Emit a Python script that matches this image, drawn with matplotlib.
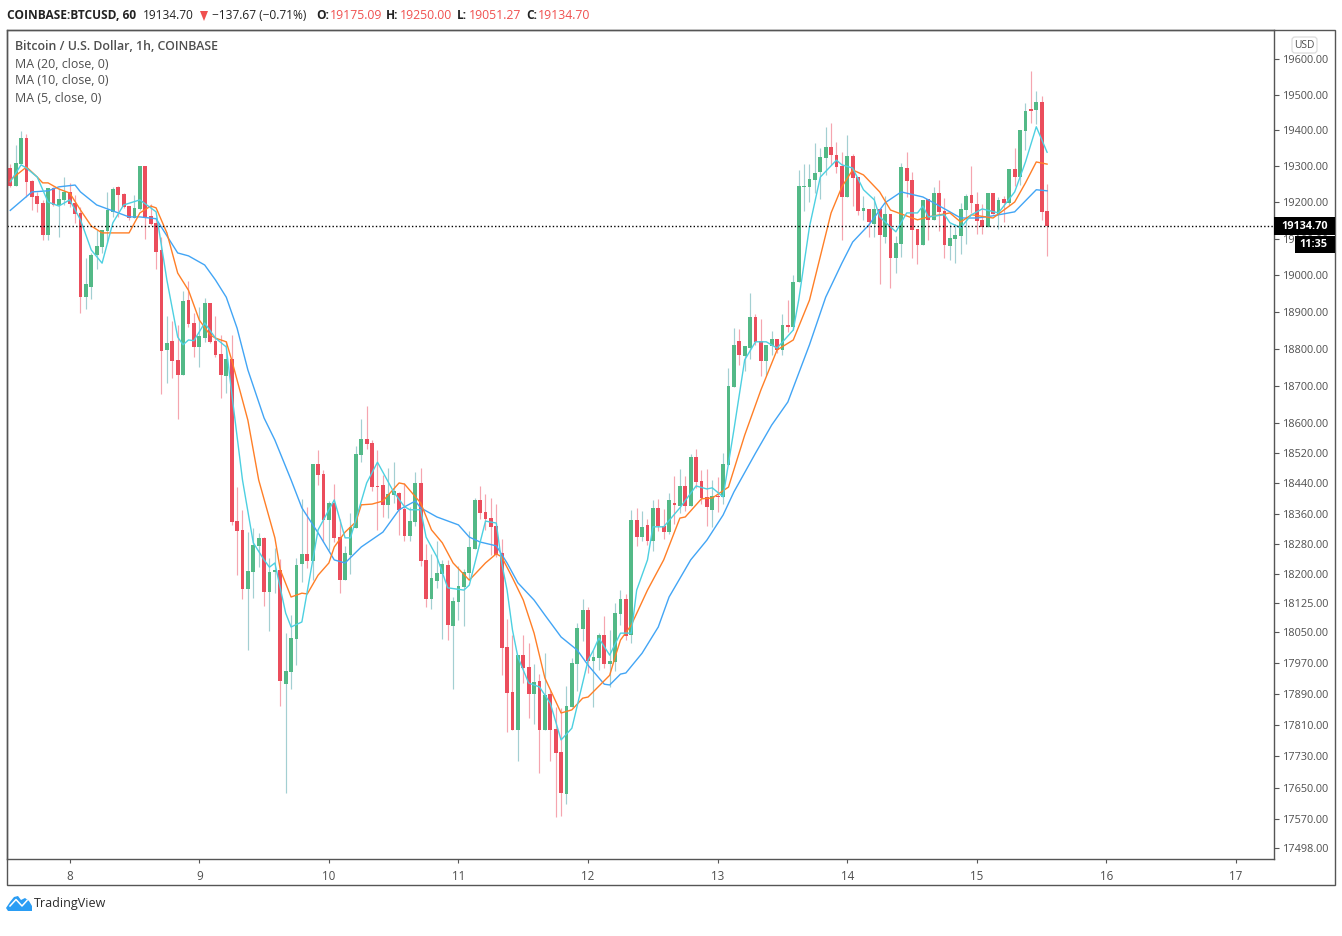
import matplotlib
matplotlib.use("Agg")
import numpy as np
import matplotlib.pyplot as plt
from matplotlib.patches import Rectangle, FancyBboxPatch, Polygon

plt.rcParams['font.family'] = ['Open Sans', 'DejaVu Sans']

# hourly candles, COINBASE:BTCUSD
opens = [
    19295, 19246, 19306, 19379, 19259, 19218, 19199, 19110, 19240, 19193, 19207, 19229,
    19199, 19171, 18940, 18968, 19055, 19077, 19121, 19174, 19243, 19224, 19190, 19157,
    19182, 19301, 19163, 19144, 19069, 18797, 18822, 18770, 18730, 18932, 18870, 18805,
    18829, 18924, 18822, 18786, 18727, 18773, 18341, 18317, 18162, 18206, 18275, 18296,
    18154, 18206, 18212, 17915, 17946, 18031, 18227, 18254, 18235, 18491, 18465, 18343,
    18388, 18298, 18185, 18251, 18322, 18515, 18558, 18547, 18433, 18436, 18383, 18409,
    18414, 18372, 18301, 18338, 18441, 18238, 18136, 18183, 18201, 18225, 18065, 18128,
    18167, 18204, 18267, 18396, 18364, 18348, 18327, 18256, 18011, 17895, 17797, 17990,
    17959, 17890, 17923, 17797, 17890, 17800, 17741, 17634, 17856, 17967, 18057, 18107,
    17975, 17982, 18042, 17967, 17972, 18096, 18136, 18042, 18343, 18298, 18330, 18288,
    18375, 18327, 18311, 18388, 18380, 18433, 18380, 18510, 18446, 18404, 18370, 18407,
    18404, 18488, 18697, 18822, 18781, 18802, 18886, 18822, 18767, 18808, 18827, 18797,
    18865, 18859, 18981, 19243, 19243, 19262, 19284, 19323, 19354, 19331, 19301, 19215,
    19328, 19270, 19177, 19182, 19141, 19182, 19105, 19168, 19047, 19086, 19295, 19262,
    19127, 19083, 19210, 19152, 19226, 19177, 19080, 19099, 19108, 19179, 19221, 19196,
    19152, 19132, 19226, 19168, 19210, 19199, 19292, 19270, 19398, 19460, 19457, 19479,
    19175.09]
highs = [
    19306, 19359, 19398, 19390, 19262, 19229, 19207, 19240, 19243, 19240, 19270, 19254,
    19221, 19188, 19047, 19061, 19124, 19124, 19229, 19243, 19246, 19226, 19190, 19221,
    19301, 19301, 19196, 19160, 19105, 18889, 18875, 18865, 18957, 18984, 18897, 18913,
    18937, 18924, 18889, 18838, 18822, 18838, 18430, 18370, 18311, 18322, 18309, 18298,
    18243, 18269, 18240, 18047, 18094, 18243, 18399, 18378, 18491, 18528, 18475, 18393,
    18438, 18346, 18275, 18362, 18539, 18611, 18646, 18555, 18528, 18462, 18480, 18496,
    18417, 18441, 18378, 18470, 18480, 18280, 18254, 18288, 18238, 18238, 18141, 18222,
    18214, 18314, 18401, 18433, 18412, 18401, 18385, 18293, 18084, 18042, 17990, 18042,
    18021, 17967, 17941, 17995, 17900, 17856, 17854, 17910, 17982, 18073, 18136, 18115,
    18003, 18047, 18091, 18055, 18125, 18159, 18149, 18370, 18375, 18367, 18346, 18396,
    18399, 18372, 18414, 18459, 18478, 18459, 18517, 18531, 18475, 18478, 18449, 18457,
    18520, 18748, 18856, 18854, 18808, 18951, 18894, 18881, 18811, 18848, 18827, 18894,
    18932, 19000, 19290, 19306, 19306, 19365, 19351, 19409, 19421, 19368, 19339, 19387,
    19334, 19270, 19218, 19182, 19218, 19182, 19218, 19168, 19108, 19309, 19339, 19284,
    19127, 19207, 19210, 19243, 19262, 19212, 19141, 19141, 19199, 19224, 19301, 19229,
    19196, 19226, 19226, 19215, 19218, 19292, 19351, 19401, 19477, 19566, 19510, 19496,
    19250.00]
lows = [
    19243, 19246, 19306, 19215, 19179, 19174, 19097, 19097, 19190, 19105, 19193, 19188,
    19144, 18897, 18908, 18935, 19017, 19061, 19088, 19160, 19160, 19185, 19152, 19157,
    19179, 19099, 19138, 19017, 18678, 18708, 18721, 18611, 18730, 18859, 18778, 18751,
    18819, 18816, 18778, 18667, 18681, 18330, 18198, 18136, 18003, 18138, 18219, 18117,
    18052, 18151, 17859, 17637, 17902, 17964, 18180, 18217, 18185, 18436, 18285, 18264,
    18285, 18151, 18185, 18201, 18322, 18496, 18531, 18420, 18317, 18351, 18348, 18388,
    18304, 18288, 18288, 18327, 18222, 18115, 18110, 18165, 18032, 18029, 17902, 18081,
    18065, 18185, 18267, 18346, 18317, 18251, 18246, 17938, 17792, 17797, 17718, 17918,
    17828, 17813, 17688, 17797, 17718, 17576, 17578, 17609, 17856, 17897, 18026, 17944,
    17856, 17951, 17957, 17908, 17949, 18068, 18029, 18021, 18275, 18288, 18277, 18261,
    18314, 18293, 18306, 18333, 18362, 18367, 18380, 18428, 18385, 18327, 18325, 18364,
    18385, 18488, 18697, 18757, 18740, 18773, 18811, 18727, 18730, 18784, 18789, 18784,
    18846, 18851, 18981, 19177, 19201, 19226, 19210, 19276, 19304, 19281, 19097, 19215,
    19190, 19166, 19152, 19105, 19105, 18976, 19088, 18965, 19006, 19050, 19215, 19047,
    19031, 19083, 19097, 19152, 19121, 19047, 19042, 19033, 19058, 19086, 19171, 19113,
    19113, 19132, 19168, 19127, 19146, 19193, 19246, 19248, 19345, 19421, 19418, 19152,
    19051.27]
closes = [
    19246, 19309, 19379, 19257, 19215, 19196, 19110, 19240, 19193, 19210, 19229, 19196,
    19168, 18940, 18976, 19055, 19080, 19124, 19179, 19237, 19221, 19188, 19157, 19185,
    19301, 19160, 19141, 19064, 18794, 18816, 18767, 18730, 18929, 18867, 18805, 18835,
    18924, 18819, 18784, 18730, 18773, 18338, 18314, 18162, 18209, 18277, 18296, 18154,
    18206, 18212, 17923, 17949, 18034, 18225, 18254, 18235, 18491, 18462, 18343, 18388,
    18296, 18185, 18256, 18325, 18517, 18558, 18544, 18430, 18430, 18383, 18412, 18420,
    18370, 18301, 18341, 18441, 18235, 18136, 18191, 18204, 18227, 18068, 18130, 18170,
    18206, 18272, 18396, 18362, 18346, 18325, 18251, 18008, 17892, 17797, 17990, 17957,
    17890, 17920, 17797, 17887, 17797, 17738, 17637, 17859, 17969, 18060, 18107, 17975,
    17985, 18042, 17967, 17975, 18099, 18136, 18039, 18343, 18298, 18325, 18288, 18375,
    18327, 18311, 18396, 18383, 18433, 18380, 18510, 18444, 18401, 18378, 18407, 18404,
    18491, 18700, 18811, 18784, 18808, 18886, 18819, 18767, 18811, 18827, 18797, 18865,
    18859, 18981, 19246, 19246, 19265, 19281, 19326, 19354, 19331, 19298, 19215, 19328,
    19268, 19177, 19185, 19146, 19182, 19110, 19168, 19047, 19088, 19298, 19259, 19124,
    19083, 19207, 19152, 19226, 19174, 19083, 19102, 19110, 19182, 19218, 19199, 19149,
    19132, 19226, 19168, 19207, 19199, 19292, 19270, 19401, 19454, 19454, 19479, 19174,
    19134.70]

# moving averages, read at some of the candles (candle number, price)
ma20_idx = [0, 4, 7, 9, 12, 13, 16, 18, 22, 24, 27, 31, 33, 36, 38, 40, 42, 44, 47, 49, 52, 54, 57, 60, 62, 65,
            69, 72, 75, 76, 79, 83, 85, 87, 90, 92, 94, 97, 99, 102, 105, 107, 110, 111, 113, 114, 117,
            120, 122, 126, 129, 132, 134, 138, 141, 144, 148, 151, 154, 156, 159, 162, 165, 169, 171,
            174, 176, 179, 182, 186, 190, 192]
ma20_val = [19178, 19229, 19232, 19243, 19248, 19229, 19193, 19182, 19160, 19160, 19155, 19061, 19053, 19028, 18987,
            18940, 18856, 18743, 18614, 18555, 18449, 18375, 18309, 18238, 18230, 18272, 18311, 18370,
            18393, 18375, 18351, 18330, 18298, 18285, 18275, 18230, 18178, 18133, 18094, 18037, 18003,
            17964, 17915, 17913, 17941, 17944, 17995, 18063, 18141, 18238, 18290, 18356, 18417, 18520,
            18595, 18657, 18811, 18940, 19033, 19091, 19138, 19199, 19229, 19215, 19199, 19174, 19157,
            19157, 19163, 19174, 19235, 19232]
ma10_idx = [0, 3, 5, 6, 7, 9, 11, 13, 15, 17, 22, 24, 26, 27, 29, 31, 33, 35, 37, 38, 40, 41, 44, 46, 49,
            50, 52, 54, 55, 57, 59, 60, 62, 64, 65, 67, 69, 72, 73, 76, 78, 80, 82, 85, 88, 90, 91, 93,
            95, 97, 99, 102, 104, 106, 107, 111, 112, 113, 115, 118, 121, 124, 125, 128, 130, 133, 136,
            139, 142, 145, 148, 152, 154, 156, 158, 161, 163, 165, 168, 170, 174, 176, 178, 182, 186,
            188, 190, 192]
ma10_val = [19262, 19298, 19270, 19254, 19254, 19237, 19226, 19179, 19135, 19116, 19116, 19171, 19190,
            19185, 19116, 19006, 18959, 18878, 18838, 18829, 18819, 18770, 18608, 18449, 18296, 18212,
            18141, 18151, 18149, 18198, 18230, 18272, 18311, 18338, 18383, 18385, 18393, 18441, 18438,
            18388, 18317, 18283, 18230, 18185, 18230, 18254, 18246, 18191, 18133, 18047, 17931, 17841,
            17849, 17879, 17882, 17938, 17985, 18029, 18068, 18159, 18238, 18348, 18351, 18399, 18401,
            18430, 18568, 18689, 18797, 18824, 18932, 19171, 19243, 19290, 19276, 19229, 19179, 19168,
            19152, 19160, 19171, 19146, 19166, 19157, 19201, 19254, 19312, 19306]
ma5_idx = [0, 2, 3, 5, 7, 9, 11, 13, 15, 17, 19, 21, 24, 27, 29, 31, 32, 33, 34, 36, 38, 40, 41, 43, 45,
           47, 48, 49, 51, 52, 54, 57, 60, 62, 63, 66, 68, 71, 73, 74, 76, 77, 79, 81, 84, 85, 88, 90, 91,
           92, 93, 94, 96, 98, 100, 102, 104, 107, 108, 109, 111, 113, 115, 116, 118, 119, 121, 124, 127,
           129, 130, 132, 134, 136, 138, 140, 142, 145, 146, 148, 150, 153, 154, 156, 158, 160, 161, 164,
           166, 168, 169, 170, 173, 174, 176, 178, 180, 183, 186, 188, 190, 192]
ma5_val = [19257, 19304, 19295, 19270, 19201, 19190, 19207, 19152, 19069, 19033, 19144, 19193, 19207,
           19174, 18987, 18832, 18811, 18824, 18822, 18870, 18829, 18805, 18681, 18449, 18283, 18238,
           18219, 18230, 18099, 18063, 18076, 18317, 18396, 18296, 18296, 18441, 18496, 18417, 18378,
           18370, 18370, 18298, 18246, 18165, 18159, 18172, 18340, 18335, 18230, 18159, 18055, 17985,
           17918, 17908, 17866, 17772, 17802, 17977, 18003, 18034, 17990, 18047, 18047, 18159, 18238,
           18325, 18325, 18375, 18433, 18425, 18428, 18404, 18582, 18770, 18819, 18819, 18802, 18851,
           18932, 19133, 19270, 19317, 19304, 19295, 19235, 19207, 19160, 19119, 19171, 19171, 19190,
           19160, 19166, 19144, 19130, 19166, 19182, 19171, 19229, 19312, 19410, 19339]

price_ticks = [19600, 19500, 19400, 19300, 19200, 19100, 19000, 18900, 18800, 18700, 18600, 18520, 18440,
               18360, 18280, 18200, 18125, 18050, 17970, 17890, 17810, 17730, 17650, 17570, 17498]
day_labels = ['8', '9', '10', '11', '12', '13', '14', '15', '16', '17']
first_midnight = 11  # candle number of the 8th, 00:00

W, H = 1342, 936
GREEN, RED = '#53b987', '#eb4d5c'
GREEN_WICK, RED_WICK = '#a3cfd2', '#f5a5af'
FRAME = '#555555'
TXT = '#4f4f4f'

fig = plt.figure(figsize=(W / 100, H / 100), dpi=100, facecolor='white')
ax = fig.add_axes([6.5 / W, 1 - 858.5 / H, 1267 / W, 829 / H])
ax.set_yscale('log')

n = np.arange(len(closes))
o, h, l, c = map(np.array, (opens, highs, lows, closes))
up = c >= o

ax.vlines(n[up], l[up], h[up], color=GREEN_WICK, lw=0.85, zorder=2)
ax.vlines(n[~up], l[~up], h[~up], color=RED_WICK, lw=0.85, zorder=2)
tops = np.maximum(o, c)
bots = np.minimum(o, c)
ax.bar(n[up], (tops - bots)[up], bottom=bots[up], width=0.72, color=GREEN, lw=0, zorder=3)
ax.bar(n[~up], (tops - bots)[~up], bottom=bots[~up], width=0.72, color=RED, lw=0, zorder=3)

ax.plot(ma20_idx, ma20_val, color='#42a5f5', lw=1.0, zorder=4)
ax.plot(ma10_idx, ma10_val, color='#ff7f27', lw=1.0, zorder=5)
ax.plot(ma5_idx, ma5_val, color='#4dd0e1', lw=1.0, zorder=6)
ax.axhline(closes[-1], color='black', lw=1, ls=(0, (1, 1.6)), zorder=7)

ax.set_xlim(-0.70, 233.93)
ax.set_ylim(19600 * np.exp(-799.5 / 6955), 19600 * np.exp(29.5 / 6955))
ax.set_xticks([first_midnight + 24 * k for k in range(len(day_labels))])
ax.set_xticklabels(day_labels)
ax.yaxis.tick_right()
ax.set_yticks(price_ticks)
ax.set_yticklabels([f'{p:.2f}' for p in price_ticks])
ax.minorticks_off()
ax.tick_params(axis='x', length=3.2, width=0.8, color=FRAME, labelcolor=TXT, labelsize=8.4, pad=5)
ax.tick_params(axis='y', length=3.6, width=0.8, color=FRAME, labelcolor=TXT, labelsize=7.8, pad=3.4)
for s in ax.spines.values():
    s.set_color(FRAME)
    s.set_linewidth(1.0)

# everything round the plot, in pixels of the picture
ov = fig.add_axes([0, 0, 1, 1], zorder=10)
ov.set_xlim(0, W)
ov.set_ylim(H, 0)
ov.axis('off')
ov.patch.set_alpha(0)
ov.add_patch(Rectangle((6.5, 29.5), 1328.5, 855.5, fill=False, ec=FRAME, lw=1.0))

last_y = H - ax.transData.transform((0, closes[-1]))[1]
ov.add_patch(Rectangle((1274, last_y - 9), 61, 18, fc='black', ec='none'))
ov.text(1304.5, last_y, f'{closes[-1]:.2f}', color='white', fontsize=7.8, fontweight='bold', ha='center', va='center')
ov.add_patch(Rectangle((1295, last_y + 9.5), 40, 17, fc='black', ec='none'))
ov.text(1313, last_y + 18, '11:35', color='white', fontsize=7.8, fontweight='bold', ha='center', va='center')
ov.add_patch(FancyBboxPatch((1294, 39), 21, 12, boxstyle='round,pad=2,rounding_size=3', fc='white', ec='#dcdcdc', lw=0.9))
ov.text(1304.5, 45, 'USD', color=TXT, fontsize=7.4, ha='center', va='center')

y_head = 15.5
ov.text(7, y_head, 'COINBASE:BTCUSD, 60', fontsize=8.6, fontweight='bold', color='#222222', va='center')
ov.text(143, y_head, '19134.70', fontsize=8.6, color='#222222', va='center')
ov.add_patch(Polygon([(200, 11), (208, 11), (204, 21)], fc='#f0504f', ec='none'))
ov.text(212, y_head, '\u2212137.67 (\u22120.71%)', fontsize=8.6, color='#222222', va='center')
for lab, val, x_lab, x_val in [('O:', '19175.09', 316, 330), ('H:', '19250.00', 386, 400),
                               ('L:', '19051.27', 457, 469), ('C:', '19134.70', 526, 538)]:
    ov.text(x_lab, y_head, lab, fontsize=8.6, fontweight='bold', color='#222222', va='center')
    ov.text(x_val, y_head, val, fontsize=8.8, color='#f0504f', va='center')

ov.text(15, 47, 'Bitcoin / U.S. Dollar, 1h, COINBASE', fontsize=8.9, fontweight='semibold', color=TXT, va='center')
for y_txt, s in [(64, 'MA (20, close, 0)'), (81, 'MA (10, close, 0)'), (98, 'MA (5, close, 0)')]:
    ov.text(15, y_txt, s, fontsize=8.9, color=TXT, va='center')

# logo
ov.add_patch(Polygon([(6, 908), (10, 902), (14, 897), (18, 896), (21, 900), (25, 898), (29, 901), (32, 906),
                      (32, 911), (8, 911)], fc='#2a9df4', ec='none'))
ov.plot([10, 16, 22, 27], [906, 899.5, 906, 900.5], color='white', lw=1.1)
ov.text(34, 904, 'TradingView', fontsize=9, color='#2b2b2b', va='center')

fig.savefig('out.png', dpi=100, facecolor='white')
